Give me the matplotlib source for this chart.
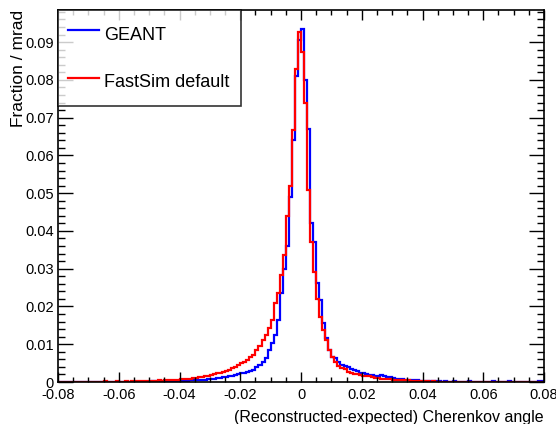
import numpy as np
import matplotlib
matplotlib.use("Agg")
import matplotlib.pyplot as plt
from matplotlib.lines import Line2D
from matplotlib.ticker import MultipleLocator

plt.rcParams['font.family'] = ['Liberation Sans', 'DejaVu Sans']

# 160 bins of 1 mrad between -0.08 and 0.08
bin_lo, bin_hi, n_bins = -0.08, 0.08, 160

# fraction per mrad, bins k = -80 ... 79
geant_left = [
    0, 0, 0, 0, 0, 0, 0, 0, 0,
    0, 0, 0, 0, 0, 0, 0, 0, 0, 0,
    0, 0, 0, 0.0001, 0, 0.0001, 0, 0.0001, 0.0001, 0.0001,
    0.0001, 0.0001, 0.0002, 0.0001, 0.0002, 0.0002, 0.0002, 0.0002, 0.0003, 0.0002,
    0.0003, 0.0003, 0.0003, 0.0003, 0.0004, 0.0004, 0.0005, 0.0005, 0.0006, 0.0006,
    0.0007, 0.0008, 0.0009, 0.0010, 0.0011, 0.0012, 0.0014, 0.0015, 0.0017, 0.0019,
    0.0021, 0.0023, 0.0025, 0.0027, 0.0029, 0.0032, 0.0040, 0.0045, 0.0053, 0.0063,
    0.0085, 0.0103, 0.0124, 0.0164, 0.0235, 0.030, 0.036, 0.049, 0.064, 0.081,
    0.0905,
]
geant_right = [
    0.0935, 0.080, 0.067, 0.042, 0.037, 0.0263, 0.0217, 0.0156, 0.0117, 0.0085,
    0.0067, 0.0063, 0.0054, 0.0045, 0.0042, 0.0040, 0.0035, 0.0032, 0.0028, 0.0025,
    0.0023, 0.0020, 0.0019, 0.0019, 0.0017, 0.0016, 0.0018, 0.0016, 0.0013, 0.0012,
    0.0010, 0.0009, 0.0008, 0.0007, 0.0006, 0.0006, 0.0005, 0.0004, 0.0004, 0.0003,
    0.0003, 0.0003, 0.0002, 0.0003, 0.0002, 0.0002, 0.0001, 0.0002, 0.0001, 0.0001,
    0.0002, 0.0001, 0.0001, 0.0001, 0.0001, 0.0002, 0.0001, 0.0001, 0.0001, 0.0001,
    0, 0.0001, 0.0001, 0.0002, 0.0001, 0, 0.0001, 0, 0.0002, 0,
    0.0001, 0, 0.0001, 0.0001, 0, 0, 0, 0.0001, 0.0002, 0.0002,
]
fastsim_left = [
    0, 0, 0, 0, 0, 0, 0, 0, 0, 0,
    0, 0, 0, 0.0001, 0.0001, 0.0002, 0.0001, 0.0001, 0.0001, 0.0002,
    0.0001, 0.0001, 0.0002, 0.0001, 0.0002, 0.0002, 0.0002, 0.0003, 0.0002, 0.0003,
    0.0002, 0.0003, 0.0003, 0.0004, 0.0003, 0.0004, 0.0005, 0.0005, 0.0005, 0.0006,
    0.0007, 0.0008, 0.0008, 0.0009, 0.0010, 0.0011, 0.0013, 0.0014, 0.0016, 0.0017,
    0.0019, 0.0021, 0.0023, 0.0025, 0.0027, 0.0030, 0.0032, 0.0036, 0.0040, 0.0045,
    0.0050, 0.0054, 0.0058, 0.0066, 0.0071, 0.0085, 0.0095, 0.0110, 0.0124, 0.0143,
    0.0164, 0.021, 0.0235, 0.0283, 0.0336, 0.044, 0.052, 0.0667, 0.083, 0.0927,
]
fastsim_right = [
    0.0874, 0.0738, 0.0508, 0.037, 0.029, 0.022, 0.0173, 0.0138, 0.0110, 0.0085,
    0.0067, 0.0054, 0.0042, 0.0036, 0.0034, 0.0027, 0.0025, 0.0021, 0.0020, 0.0019,
    0.0016, 0.0016, 0.0015, 0.0012, 0.0011, 0.0010, 0.0009, 0.0009, 0.0008, 0.0007,
    0.0006, 0.0006, 0.0005, 0.0005, 0.0004, 0.0004, 0.0003, 0.0003, 0.0003, 0.0002,
    0.0002, 0.0002, 0.0001, 0.0002, 0.0001, 0.0001, 0, 0, 0, 0,
    0, 0, 0, 0, 0, 0, 0, 0, 0, 0,
    0, 0, 0, 0, 0, 0, 0, 0, 0, 0,
    0, 0, 0, 0, 0, 0, 0, 0, 0, 0,
]

geant = np.array(geant_left + geant_right)
fastsim = np.array(fastsim_left + fastsim_right)

x_ticks = [-0.08, -0.06, -0.04, -0.02, 0, 0.02, 0.04, 0.06, 0.08]
x_tick_labels = ['-0.08', '-0.06', '-0.04', '-0.02', '0', '0.02', '0.04', '0.06', '0.08']
y_ticks = [0, 0.01, 0.02, 0.03, 0.04, 0.05, 0.06, 0.07, 0.08, 0.09]
y_tick_labels = ['0', '0.01', '0.02', '0.03', '0.04', '0.05', '0.06', '0.07', '0.08', '0.09']

edges = np.linspace(bin_lo, bin_hi, n_bins + 1)

fig = plt.figure(figsize=(5.56, 4.24), dpi=100)
ax = fig.add_axes([58 / 556, 1 - 382 / 424, 486 / 556, 372 / 424])

ax.stairs(geant, edges, baseline=0, color='#0000ff', linewidth=1.6)
ax.stairs(fastsim, edges, baseline=0, color='#ff0000', linewidth=1.6)

ax.set_xlim(bin_lo, bin_hi)
ax.set_ylim(0, 0.0985)

ax.set_xticks(x_ticks)
ax.set_xticklabels(x_tick_labels)
ax.set_yticks(y_ticks)
ax.set_yticklabels(y_tick_labels)
ax.xaxis.set_minor_locator(MultipleLocator(0.005))
ax.yaxis.set_minor_locator(MultipleLocator(0.002))

ax.tick_params(which='both', direction='in', top=True, right=True, labelsize=10.5, width=1)
ax.tick_params(axis='x', which='major', length=7, pad=4.5)
ax.tick_params(axis='x', which='minor', length=3.6)
ax.tick_params(axis='y', which='major', length=10.5, pad=3)
ax.tick_params(axis='y', which='minor', length=5)
for s in ax.spines.values():
    s.set_linewidth(1.2)

ax.set_xlabel('(Reconstructed-expected) Cherenkov angle', fontsize=11.5, loc='right')
ax.xaxis.set_label_coords(1.0, -0.075)
ax.set_ylabel('Fraction / mrad', fontsize=12.5, loc='top')
ax.yaxis.set_label_coords(-0.066, 1.0)

handles = [Line2D([], [], color='#0000ff', linewidth=1.6),
           Line2D([], [], color='#ff0000', linewidth=1.6)]
leg = ax.legend(handles, ['GEANT', 'FastSim default'], loc='upper left',
                bbox_to_anchor=(0, 1 - 94 / 372, 183 / 486, 94 / 372), mode='expand',
                borderaxespad=0, fancybox=False, fontsize=13, handlelength=1.7,
                handleheight=2.0, labelspacing=1.1, borderpad=0.55, handletextpad=0.3)
leg.get_frame().set_edgecolor('black')
leg.get_frame().set_linewidth(1.2)

fig.savefig('out.png', dpi=100)
